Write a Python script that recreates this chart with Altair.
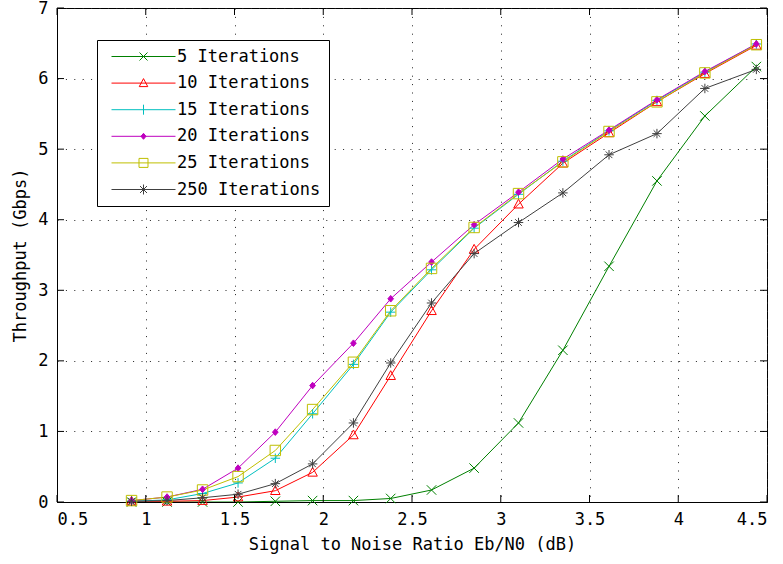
import altair as alt
import pandas as pd

snr = [0.92, 1.12, 1.32, 1.52, 1.73, 1.94, 2.17, 2.38, 2.61, 2.85, 3.10, 3.35, 3.61, 3.88, 4.15, 4.44]

it5 = [0.00, 0.00, 0.00, 0.00, 0.01, 0.02, 0.02, 0.05, 0.17, 0.48, 1.12, 2.15, 3.34, 4.55, 5.47, 6.17]
it10 = [0.01, 0.01, 0.02, 0.07, 0.16, 0.42, 0.95, 1.79, 2.71, 3.58, 4.22, 4.80, 5.23, 5.67, 6.07, 6.47]
it15 = [0.01, 0.03, 0.12, 0.27, 0.62, 1.25, 1.95, 2.69, 3.29, 3.88, 4.36, 4.83, 5.26, 5.69, 6.09, 6.49]
it20 = [0.02, 0.07, 0.18, 0.48, 0.99, 1.65, 2.25, 2.88, 3.40, 3.93, 4.39, 4.86, 5.27, 5.70, 6.10, 6.49]
it25 = [0.02, 0.07, 0.17, 0.36, 0.73, 1.31, 1.98, 2.71, 3.31, 3.89, 4.37, 4.82, 5.25, 5.67, 6.08, 6.48]
it250 = [0.01, 0.02, 0.06, 0.11, 0.26, 0.54, 1.12, 1.97, 2.82, 3.52, 3.96, 4.38, 4.92, 5.22, 5.86, 6.13]

series_names = ["5 Iterations", "10 Iterations", "15 Iterations",
                "20 Iterations", "25 Iterations", "250 Iterations"]
series_values = [it5, it10, it15, it20, it25, it250]

x_ticks = [0.5, 1.0, 1.5, 2.0, 2.5, 3.0, 3.5, 4.0, 4.5]
y_ticks = [0, 1, 2, 3, 4, 5, 6, 7]

colors = ["#008000", "#ff0000", "#00bfbf", "#bf00bf", "#bfbf00", "#404040"]
fills = ["transparent", "transparent", "transparent", "#bf00bf", "transparent", "transparent"]

marker_shapes = [
    "M-1,-1L1,1M-1,1L1,-1",
    "M0,-1.05L1,0.8L-1,0.8Z",
    "M-1,0L1,0M0,-1L0,1",
    "M0,-0.7L0.6,0L0,0.7L-0.6,0Z",
    "M-1.1,-1.1L1.1,-1.1L1.1,1.1L-1.1,1.1Z",
    "M-1,0L1,0M0,-1L0,1M-0.7,-0.7L0.7,0.7M-0.7,0.7L0.7,-0.7",
]
line_part = "M-6.4,0L6.4,0"
legend_shapes = [
    line_part + "M-0.8,-0.8L0.8,0.8M-0.8,0.8L0.8,-0.8",
    line_part + "M0,-0.9L0.85,0.7L-0.85,0.7Z",
    line_part + "M0,-1L0,1",
    line_part + "M0,-0.6L0.5,0L0,0.6L-0.5,0Z",
    line_part + "M-0.9,-0.9L0.9,-0.9L0.9,0.9L-0.9,0.9Z",
    line_part + "M0,-1L0,1M-0.7,-0.7L0.7,0.7M-0.7,0.7L0.7,-0.7",
]

rows = []
for name, vals in zip(series_names, series_values):
    for xv, yv in zip(snr, vals):
        rows.append({"snr": xv, "tp": yv, "series": name})
df = pd.DataFrame(rows)

FONT = "DejaVu Sans Mono"
FS = 17
W, H = 710, 494


def js_list(items):
    return "[" + ",".join("'" + s + "'" for s in items) + "]"


idx_expr = "indexof(" + js_list(series_names) + ", datum.value)"
shape_expr = js_list(legend_shapes) + "[" + idx_expr + "]"
fill_expr = js_list(fills) + "[" + idx_expr + "]"

xscale = alt.Scale(domain=[0.5, 4.5], nice=False, zero=False)
yscale = alt.Scale(domain=[0, 7], nice=False)
color_scale = alt.Scale(domain=series_names, range=colors)

x_enc = alt.X("snr:Q", scale=xscale,
              axis=alt.Axis(values=x_ticks, format="~g", title="Signal to Noise Ratio Eb/N0 (dB)",
                            grid=True, ticks=False, labelPadding=9, titlePadding=9))
y_enc = alt.Y("tp:Q", scale=yscale,
              axis=alt.Axis(values=y_ticks, format="d", title="Throughput (Gbps)",
                            grid=True, ticks=False, labelPadding=9, titlePadding=8))

legend = alt.Legend(
    title=None, orient="none", legendX=40, legendY=32,
    symbolOffset=30, labelOffset=25, rowPadding=8.6, padding=8,
    strokeColor="#000", fillColor="#fff",
    symbolStrokeWidth=1, symbolSize=100, symbolOpacity=1,
    symbolType=alt.ExprRef(expr=shape_expr),
    symbolFillColor=alt.ExprRef(expr=fill_expr),
    labelFont=FONT, labelFontSize=FS, labelColor="#000", labelLimit=400,
)

base = alt.Chart(df)

lines = base.mark_line(strokeWidth=1, clip=True).encode(
    x=x_enc, y=y_enc,
    color=alt.Color("series:N", scale=color_scale, legend=legend),
    detail="series:N",
)

point_layers = []
for name, col, fl, shp in zip(series_names, colors, fills, marker_shapes):
    point_layers.append(
        base.transform_filter(alt.datum.series == name).mark_point(
            shape=shp, stroke=col, fill=fl, filled=False, strokeWidth=1, opacity=1, size=90
        ).encode(x="snr:Q", y="tp:Q")
    )

xt = pd.DataFrame({"v": x_ticks})
yt = pd.DataFrame({"v": y_ticks})
tick_len = 7
bottom_ticks = alt.Chart(xt).mark_rule(color="#000", strokeWidth=1).encode(
    x=alt.X("v:Q", scale=xscale), y=alt.value(H), y2=alt.value(H - tick_len))
top_ticks = alt.Chart(xt).mark_rule(color="#000", strokeWidth=1).encode(
    x=alt.X("v:Q", scale=xscale), y=alt.value(0), y2=alt.value(tick_len))
left_ticks = alt.Chart(yt).mark_rule(color="#000", strokeWidth=1).encode(
    y=alt.Y("v:Q", scale=yscale), x=alt.value(0), x2=alt.value(tick_len))
right_ticks = alt.Chart(yt).mark_rule(color="#000", strokeWidth=1).encode(
    y=alt.Y("v:Q", scale=yscale), x=alt.value(W), x2=alt.value(W - tick_len))

chart = alt.layer(lines, *point_layers, bottom_ticks, top_ticks, left_ticks, right_ticks).properties(
    width=W, height=H,
    autosize=alt.AutoSizeParams(type="none"),
    padding={"left": 57, "top": 8, "right": 16, "bottom": 62},
    background="#ffffff",
).configure_view(
    stroke="#000", strokeWidth=1
).configure_axis(
    labelFont=FONT, titleFont=FONT, labelFontSize=FS, titleFontSize=FS,
    labelColor="#000", titleColor="#000", titleFontWeight="normal",
    domainColor="#000", gridColor="#222", gridDash=[1, 7.4], gridOpacity=1, gridWidth=1,
)

chart.save("out.html", embed_options={"renderer": "svg", "actions": False})
